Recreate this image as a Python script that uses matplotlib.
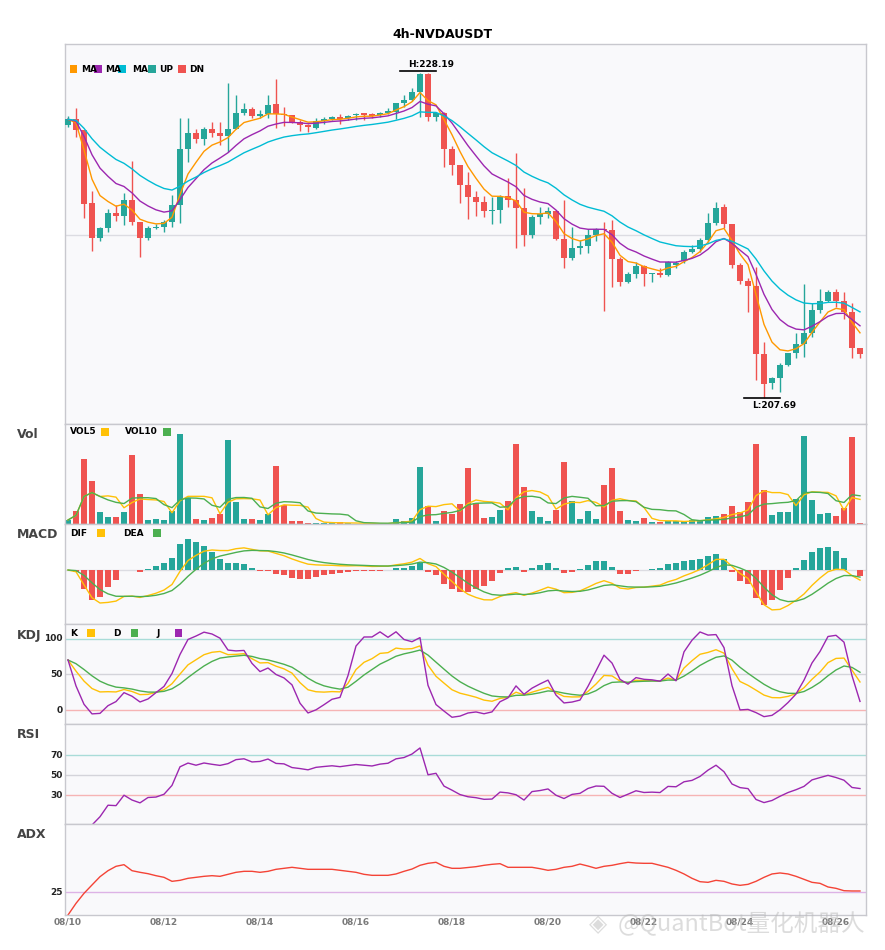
import numpy as np
import pandas as pd
import matplotlib
matplotlib.use('Agg')
import matplotlib.pyplot as plt
from matplotlib.patches import Rectangle

plt.rcParams['font.family'] = ['DejaVu Sans']

# 4h candles of NVDAUSDT
opens = [224.93, 225.27, 224.59, 219.97, 217.76, 218.43, 219.36, 219.19, 220.18, 218.79,
         217.80, 218.41, 218.46, 218.77, 219.86, 223.40, 224.42, 224.03, 224.64, 224.42,
         224.24, 224.66, 225.69, 225.92, 225.50, 225.60, 226.23, 225.60, 225.54, 225.08,
         224.91, 224.72, 225.14, 225.27, 225.40, 225.37, 225.54, 225.65, 225.59, 225.54,
         225.69, 225.75, 226.28, 226.49, 226.97, 228.13, 225.43, 225.65, 223.38, 222.39,
         221.12, 220.39, 220.07, 219.50, 219.55, 220.43, 220.18, 219.66, 217.99, 219.11,
         219.30, 219.50, 217.72, 216.54, 217.17, 217.28, 217.99, 218.33, 218.29, 216.46,
         215.03, 215.51, 216.02, 215.51, 215.56, 215.45, 216.08, 216.33, 216.92, 217.08,
         217.66, 218.75, 219.74, 218.67, 216.08, 215.07, 214.77, 210.45, 208.65, 208.97,
         209.77, 210.51, 211.08, 211.77, 213.24, 213.81, 214.36, 213.81, 213.13, 210.82]
highs = [225.48, 225.96, 224.59, 220.77, 218.49, 219.59, 219.86, 220.60, 222.64, 218.79,
         218.54, 218.67, 218.92, 220.50, 225.33, 225.33, 224.64, 224.77, 225.08, 225.08,
         227.58, 226.80, 226.32, 226.06, 225.86, 226.80, 227.81, 226.06, 225.54, 225.23,
         224.97, 225.35, 225.43, 225.48, 225.60, 225.54, 225.65, 225.69, 225.65, 225.75,
         225.96, 226.32, 226.80, 227.24, 228.19, 228.17, 225.75, 225.75, 223.59, 222.39,
         221.97, 220.75, 220.43, 220.39, 220.50, 221.55, 223.16, 220.92, 219.23, 219.72,
         219.76, 219.58, 220.18, 218.49, 217.66, 218.33, 218.39, 218.81, 218.92, 216.60,
         215.66, 216.29, 216.08, 215.59, 215.87, 216.33, 216.35, 217.02, 217.34, 217.76,
         219.34, 220.07, 219.91, 218.67, 216.19, 215.24, 215.97, 211.20, 209.03, 209.88,
         210.51, 211.77, 214.86, 213.66, 214.55, 214.50, 214.55, 214.36, 213.66, 210.86]
lows = [224.77, 224.17, 219.06, 216.96, 217.61, 218.18, 218.85, 218.60, 218.60, 216.60,
        217.66, 218.33, 218.18, 218.49, 218.71, 222.60, 223.76, 223.65, 224.17, 223.65,
        223.23, 224.66, 225.54, 225.35, 225.33, 225.35, 224.72, 224.85, 225.02, 224.55,
        224.49, 224.64, 224.97, 225.23, 224.97, 225.23, 225.23, 225.23, 225.33, 225.43,
        225.59, 225.27, 226.06, 226.44, 225.43, 225.16, 225.16, 222.28, 221.76, 219.97,
        218.96, 219.17, 219.11, 218.67, 218.75, 219.74, 217.17, 217.28, 217.80, 218.67,
        219.03, 217.66, 215.91, 216.39, 216.77, 216.86, 217.61, 213.20, 214.71, 214.75,
        214.92, 215.24, 214.75, 215.03, 215.34, 215.40, 215.91, 216.19, 216.82, 216.92,
        217.55, 218.60, 218.39, 215.91, 214.86, 213.10, 208.83, 207.69, 208.26, 208.05,
        209.73, 210.23, 210.29, 211.56, 213.03, 213.73, 213.45, 212.67, 210.19, 210.19]
closes = [225.27, 224.59, 219.93, 217.80, 218.39, 219.34, 219.19, 220.18, 218.81, 217.80,
          218.41, 218.46, 218.77, 219.86, 223.38, 224.42, 224.03, 224.64, 224.42, 224.24,
          224.66, 225.69, 225.92, 225.48, 225.60, 226.17, 225.60, 225.54, 225.06, 224.93,
          224.77, 225.16, 225.29, 225.40, 225.31, 225.46, 225.60, 225.54, 225.48, 225.69,
          225.79, 226.32, 226.49, 226.99, 228.13, 225.43, 225.65, 223.38, 222.39, 221.12,
          220.39, 220.07, 219.50, 219.53, 220.39, 220.18, 219.69, 217.99, 219.13, 219.28,
          219.50, 217.72, 216.54, 217.13, 217.28, 217.99, 218.35, 218.29, 216.46, 215.03,
          215.51, 216.02, 215.51, 215.56, 215.45, 216.27, 216.19, 216.88, 217.08, 217.66,
          218.71, 219.69, 218.67, 216.08, 215.07, 214.77, 210.45, 208.57, 208.97, 209.77,
          210.51, 211.08, 211.77, 213.24, 213.81, 214.36, 213.81, 213.10, 210.86, 210.48]
volumes = [4.0, 13.3, 65.3, 43.0, 12.0, 7.0, 7.0, 12.0, 69.3, 30.0,
           4.0, 5.0, 4.0, 13.3, 90.0, 26.0, 5.0, 4.0, 6.0, 10.0,
           84.0, 22.0, 5.0, 5.0, 4.0, 10.0, 58.0, 19.0, 3.0, 3.0,
           1.3, 1.0, 1.0, 0.7, 2.0, 0.7, 0.5, 0.3, 0.3, 0.3,
           0.7, 5.0, 3.0, 6.0, 57.0, 18.0, 3.0, 13.0, 10.0, 20.0,
           56.3, 20.7, 6.0, 7.0, 14.0, 23.0, 80.0, 37.3, 13.0, 7.0,
           3.0, 14.0, 62.0, 23.0, 5.0, 13.0, 5.0, 39.0, 56.3, 13.0,
           4.0, 3.0, 6.0, 2.0, 2.0, 3.0, 2.7, 3.0, 4.0, 4.0,
           7.0, 8.0, 10.0, 18.0, 12.0, 22.0, 80.0, 34.0, 9.0, 12.0,
           12.0, 25.0, 88.0, 24.0, 10.0, 11.0, 8.0, 16.0, 87.0, 1.0]
# ADX line
adx_values = [0.0, 12.8, 23.8, 33.0, 42.1, 48.7, 53.5, 55.3, 48.7, 46.9,
              45.4, 43.2, 41.4, 37.0, 38.1, 40.3, 41.4, 42.5, 43.2, 42.5,
              44.7, 46.9, 48.0, 48.0, 46.9, 48.0, 50.2, 51.3, 52.4, 51.3,
              50.2, 50.2, 50.2, 50.2, 49.1, 48.0, 46.9, 44.7, 43.6, 43.6,
              43.6, 45.1, 48.0, 50.5, 54.6, 56.8, 57.9, 53.5, 51.3, 51.3,
              52.2, 53.1, 54.6, 55.7, 56.4, 52.4, 52.4, 52.4, 52.4, 50.9,
              49.1, 50.2, 52.4, 53.5, 56.0, 53.8, 51.3, 53.5, 54.6, 56.4,
              57.9, 57.1, 56.8, 56.8, 54.6, 52.4, 49.1, 45.1, 40.3, 36.6,
              35.9, 38.1, 37.0, 34.1, 32.6, 33.7, 37.0, 41.4, 45.1, 46.2,
              45.1, 42.5, 39.2, 35.9, 34.8, 30.8, 29.3, 26.7, 26.4, 26.4]

UP = '#26A69A'
DN = '#EF5350'
BG = '#F9F9FB'
EDGE = '#C8C8CE'

n = len(closes)
x = np.arange(n)
dates = pd.date_range('2024-08-10', periods=n, freq='4h')
o = np.array(opens)
h = np.array(highs)
l = np.array(lows)
c = np.array(closes)
close = pd.Series(closes)
vol = pd.Series(volumes)
colors = np.where(c >= o, UP, DN)

# indicators
ma5 = close.ewm(span=5, adjust=False).mean()
ma10 = close.ewm(span=10, adjust=False).mean()
ma20 = close.ewm(span=20, adjust=False).mean()
vol5 = vol.rolling(5, min_periods=1).mean()
vol10 = vol.rolling(10, min_periods=1).mean()

dif = close.ewm(span=6, adjust=False).mean() - close.ewm(span=13, adjust=False).mean()
dea = dif.ewm(span=5, adjust=False).mean()
macd_hist = 2 * (dif - dea)

llv = pd.Series(lows).rolling(9, min_periods=1).min()
hhv = pd.Series(highs).rolling(9, min_periods=1).max()
rsv = (close - llv) / (hhv - llv) * 100
k_line = rsv.ewm(com=2, adjust=False).mean()
d_line = k_line.ewm(com=2, adjust=False).mean()
j_line = 3 * k_line - 2 * d_line

delta = close.diff()
gain = delta.clip(lower=0).ewm(alpha=1/14, adjust=True).mean()
loss = (-delta).clip(lower=0).ewm(alpha=1/14, adjust=True).mean()
rsi = 100 * gain / (gain + loss)

W, H = 885, 950
fig = plt.figure(figsize=(W/100, H/100), dpi=100)
fig.patch.set_facecolor('white')


def add_panel(top, bottom):
    ax = fig.add_axes([65/W, 1 - bottom/H, 801/W, (bottom - top)/H])
    ax.set_facecolor(BG)
    ax.set_xlim(-0.375, n - 0.25)
    ax.set_xticks([])
    ax.set_yticks([])
    for s in ax.spines.values():
        s.set_color(EDGE)
        s.set_linewidth(1)
    return ax


ax = add_panel(44, 424)
ax_vol = add_panel(424, 524)
ax_macd = add_panel(524, 624)
ax_kdj = add_panel(624, 724)
ax_rsi = add_panel(724, 824)
ax_adx = add_panel(824, 915)

# main candles
ax.set_ylim(206.05, 230.02)
ax.axhline(218, color='#DCDCE2', lw=1, zorder=0)
ax.vlines(x, l, h, colors=colors, lw=1, zorder=2)
ax.bar(x, np.maximum(np.abs(c - o), 0.03), bottom=np.minimum(o, c), width=0.75,
       color=colors, zorder=3)
ax.plot(x, ma5, color='#FF9800', lw=1, zorder=4)
ax.plot(x, ma10, color='#9C27B0', lw=1, zorder=4)
ax.plot(x, ma20, color='#00BCD4', lw=1, zorder=4)

ih, il = int(np.argmax(h)), int(np.argmin(l))
ax.plot([ih - 2.5, ih + 2], [h[ih] + 0.12, h[ih] + 0.12], color='black', lw=1.2)
ax.annotate(f'H:{h[ih]:.2f}', xy=(ih - 1.5, h[ih] + 0.12), xytext=(0, 1.5),
            textcoords='offset points', ha='left', va='bottom', fontsize=6.5,
            fontweight='bold')
ax.plot([il - 2.5, il + 2], [l[il], l[il]], color='black', lw=1.2)
ax.annotate(f'L:{l[il]:.2f}', xy=(il - 1.5, l[il]), xytext=(0, -2),
            textcoords='offset points', ha='left', va='top', fontsize=6.5,
            fontweight='bold')

# volume
ax_vol.set_ylim(0, 100)
ax_vol.bar(x, volumes, width=0.75, color=colors, zorder=2)
ax_vol.plot(x, vol5, color='#FFC107', lw=1, zorder=3)
ax_vol.plot(x, vol10, color='#4CAF50', lw=1, zorder=3)

# macd
ax_macd.set_ylim(-2.98, 2.54)
ax_macd.axhline(0, color='#DCDCE2', lw=1, zorder=0)
ax_macd.bar(x, macd_hist, width=0.75, color=np.where(macd_hist >= 0, UP, DN), zorder=2)
ax_macd.plot(x, dif, color='#FFC107', lw=1, zorder=3)
ax_macd.plot(x, dea, color='#4CAF50', lw=1, zorder=3)

# kdj
ax_kdj.set_ylim(-19.7, 121.1)
for v, col in [(100, '#A9DCD8'), (50, '#D4D4DA'), (0, '#F6B4B4')]:
    ax_kdj.axhline(v, color=col, lw=1, zorder=0)
ax_kdj.plot(x, k_line, color='#FFC107', lw=1)
ax_kdj.plot(x, d_line, color='#4CAF50', lw=1)
ax_kdj.plot(x, j_line, color='#9C27B0', lw=1)

# rsi
ax_rsi.set_ylim(1, 101)
for v, col in [(70, '#A9DCD8'), (50, '#D4D4DA'), (30, '#F6B4B4')]:
    ax_rsi.axhline(v, color=col, lw=1, zorder=0)
ax_rsi.plot(x, rsi, color='#9C27B0', lw=1)

# adx
ax_adx.set_ylim(0, 100)
ax_adx.axhline(25, color='#DDB3E6', lw=1, zorder=0)
ax_adx.plot(x, adx_values, color='#F44336', lw=1)

ticks = x[::12]
ax_adx.set_xticks(ticks)
ax_adx.set_xticklabels(dates[ticks].strftime('%m/%d'), fontsize=6.5,
                       fontweight='bold', color='#7A7A7A')
ax_adx.tick_params(axis='x', length=0, pad=2)

# left value labels
for axx, vals in [(ax_kdj, [100, 50, 0]), (ax_rsi, [70, 50, 30]), (ax_adx, [25])]:
    for v in vals:
        axx.text(-0.003, v, str(v), transform=axx.get_yaxis_transform(),
                 ha='right', va='center', fontsize=6.5, fontweight='bold', color='#222')

# panel names
for name, yy in [('Vol', 434.5), ('MACD', 534.5), ('KDJ', 635), ('RSI', 734.5), ('ADX', 834.5)]:
    fig.text(17/W, 1 - yy/H, name, fontsize=9, fontweight='bold', color='#444',
             va='center', ha='left')


def legend(items, yc):
    # items: (text, text_x, square_x, colour)
    for txt, tx, sx, col in items:
        if txt:
            fig.text(tx/W, 1 - yc/H, txt, fontsize=6.5, fontweight='bold',
                     va='center', ha='left', color='black')
        if col:
            fig.add_artist(Rectangle((sx/W, 1 - (yc + 3.7)/H), 7.4/W, 7.4/H,
                                     transform=fig.transFigure, color=col, lw=0))


legend([('', 0, 70, '#FF9800'), ('MA', 80.7, 94.3, '#9C27B0'),
        ('MA', 105, 118.3, '#00BCD4'), ('MA', 131.7, 148.3, UP),
        ('UP', 159, 178.3, DN), ('DN', 189, 0, None)], 69)
legend([('VOL5', 70, 101.3, '#FFC107'), ('VOL10', 125, 163.3, '#4CAF50')], 432)
legend([('DIF', 70, 97.3, '#FFC107'), ('DEA', 123.3, 153.3, '#4CAF50')], 533)
legend([('K', 70, 87.3, '#FFC107'), ('D', 113.3, 131, '#4CAF50'),
        ('J', 156.7, 175, '#9C27B0')], 633)

fig.text(0.5, 1 - 34/H, '4h-NVDAUSDT', ha='center', va='center', fontsize=9,
         fontweight='bold')

# watermark
fig.text(589/W, 1 - 924/H, '◈', fontsize=17, color='#BBBBBB', alpha=0.5,
         va='center', ha='left')
fig.text(618/W, 1 - 924/H, '@QuantBot量化机器人', fontsize=17, color='#BBBBBB',
         alpha=0.5, va='center', ha='left',
         family=['Noto Sans CJK SC', 'DejaVu Sans'])

fig.savefig('out.png', dpi=100)
